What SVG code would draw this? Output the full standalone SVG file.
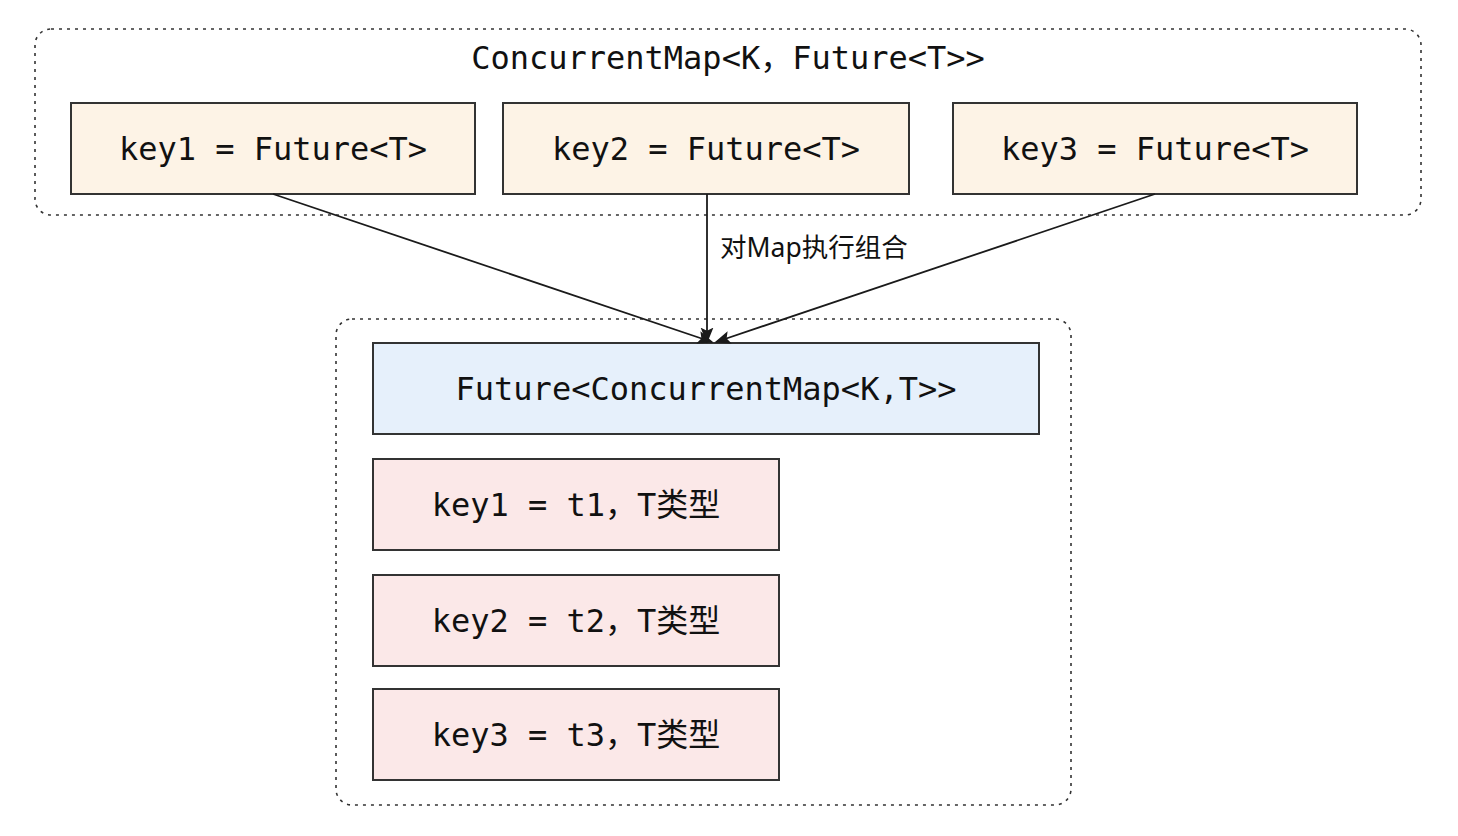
<svg xmlns="http://www.w3.org/2000/svg" width="1458" height="836" viewBox="0 0 1458 836">
<defs>
<marker id="arr" viewBox="0 0 10 10" refX="9" refY="5" markerWidth="16" markerHeight="16" markerUnits="userSpaceOnUse" orient="auto">
<path d="M0,1 L10,5 L0,9 L2,5 z" fill="#1a1a1a"/>
</marker>
<style>
.grp{fill:none;stroke:#333;stroke-width:1.6;stroke-dasharray:3 5}
.box{stroke:#333;stroke-width:2}
.fut{fill:#fdf3e6}
.res{fill:#fbe8e8}
.blue{fill:#e6f0fb}
.mono{font-family:"DejaVu Sans Mono","Liberation Mono","Noto Sans CJK SC",monospace;font-size:32px;fill:#111;text-anchor:middle;dominant-baseline:central}
.lbl{font-family:"Noto Sans","Noto Sans CJK SC",sans-serif;font-size:26.5px;fill:#111}
.edge{fill:none;stroke:#1a1a1a;stroke-width:1.8;marker-end:url(#arr)}
</style>
</defs>
<rect width="1458" height="836" fill="#fff"/>
<g id="group-map">
<rect class="grp" x="35" y="29" width="1386" height="186" rx="16"/>
<text class="mono" x="728" y="58">ConcurrentMap&lt;K，Future&lt;T&gt;&gt;</text>
</g>
<g id="node-key1-future">
<rect class="box fut" x="71" y="103" width="404" height="91"/>
<text class="mono" x="273" y="148.5">key1 = Future&lt;T&gt;</text>
</g>
<g id="node-key2-future">
<rect class="box fut" x="503" y="103" width="406" height="91"/>
<text class="mono" x="706" y="148.5">key2 = Future&lt;T&gt;</text>
</g>
<g id="node-key3-future">
<rect class="box fut" x="953" y="103" width="404" height="91"/>
<text class="mono" x="1155" y="148.5">key3 = Future&lt;T&gt;</text>
</g>
<g id="group-result">
<rect class="grp" x="336" y="319" width="735" height="486" rx="16"/>
</g>
<g id="node-future-map">
<rect class="box blue" x="373" y="343" width="666" height="91"/>
<text class="mono" x="706" y="388.5">Future&lt;ConcurrentMap&lt;K,T&gt;&gt;</text>
</g>
<g id="node-key1-t1">
<rect class="box res" x="373" y="459" width="406" height="91"/>
<text class="mono" x="576" y="504.5">key1 = t1，T类型</text>
</g>
<g id="node-key2-t2">
<rect class="box res" x="373" y="575" width="406" height="91"/>
<text class="mono" x="576" y="620.5">key2 = t2，T类型</text>
</g>
<g id="node-key3-t3">
<rect class="box res" x="373" y="689" width="406" height="91"/>
<text class="mono" x="576" y="734.5">key3 = t3，T类型</text>
</g>
<g id="connectors">
<path class="edge" d="M273,194 L712,342"/>
<path class="edge" d="M707,194 L707,342"/>
<path class="edge" d="M1155,194 L716,342"/>
<text class="lbl" x="720" y="257">对Map执行组合</text>
</g>
</svg>
